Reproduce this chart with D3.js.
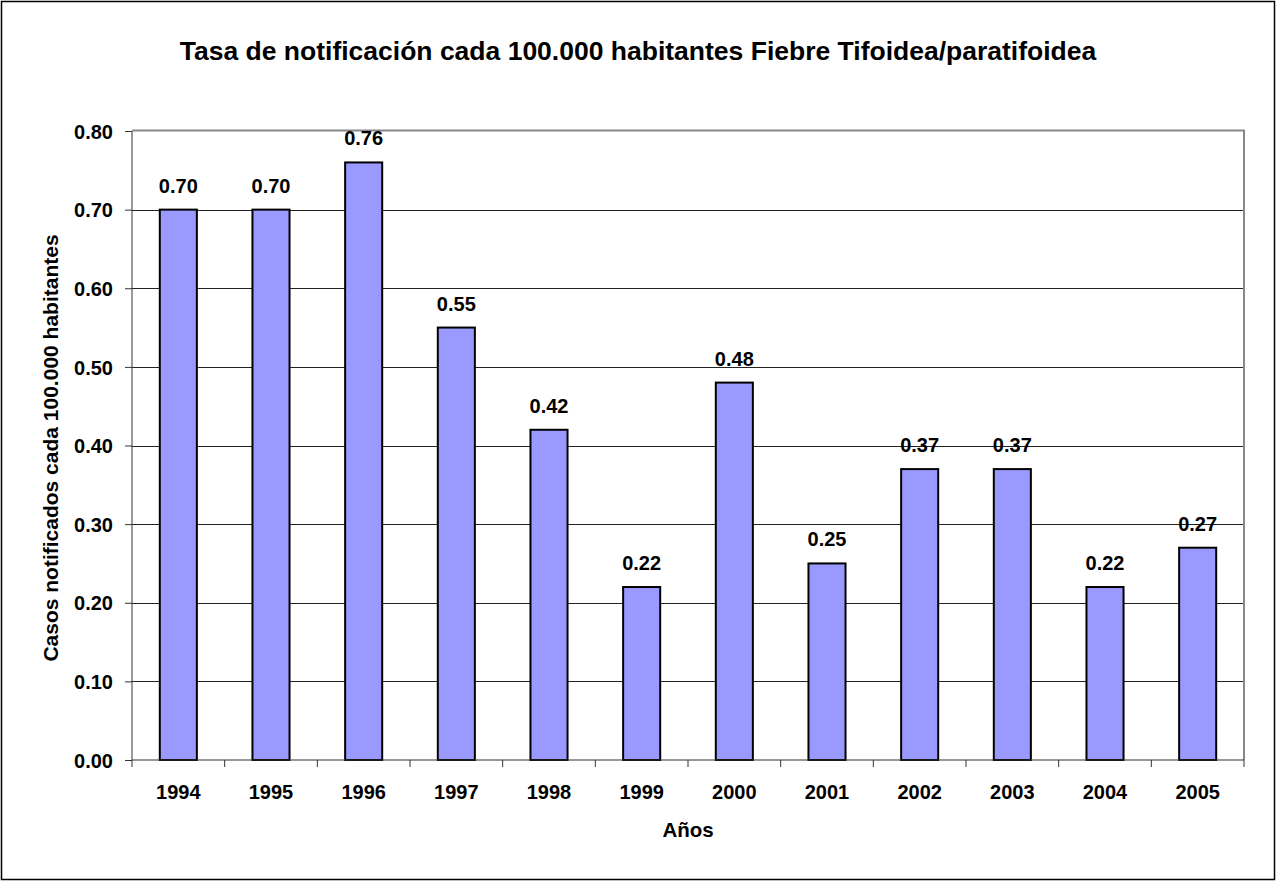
<!DOCTYPE html>
<html>
<head>
<meta charset="utf-8">
<script src="https://cdn.jsdelivr.net/npm/d3@7"></script>
<style>
  body { margin: 0; background: #fff; }
  text { font-family: "Liberation Sans", Arial, sans-serif; font-weight: bold; fill: #000; }
</style>
</head>
<body>
<script>
let width = 1276;
let height = 881;

let years = ['1994', '1995', '1996', '1997', '1998', '1999', '2000', '2001', '2002', '2003', '2004', '2005'];
let rates = [0.70, 0.70, 0.76, 0.55, 0.42, 0.22, 0.48, 0.25, 0.37, 0.37, 0.22, 0.27];
let yTicks = [0, 0.1, 0.2, 0.3, 0.4, 0.5, 0.6, 0.7, 0.8];

let margin = {left: 132, right: 32, top: 131, bottom: 121};

let svg = d3.select('body').append('svg').attr('width', width).attr('height', height);

// outer frame
svg.append('rect').attr('x', 1.5).attr('y', 1.5).attr('width', width - 3).attr('height', height - 3)
  .attr('fill', 'white').attr('stroke', '#000').attr('stroke-width', 1.5);

let x = d3.scaleBand().domain(years).range([margin.left, width - margin.right]);
let y = d3.scaleLinear().domain([0, 0.8]).range([height - margin.bottom, margin.top]);

// gridlines
svg.append('g').selectAll('line').data(yTicks.slice(1, -1)).enter().append('line')
  .attr('x1', margin.left).attr('x2', width - margin.right)
  .attr('y1', d => Math.round(y(d)) + 0.5).attr('y2', d => Math.round(y(d)) + 0.5)
  .attr('stroke', '#222').attr('stroke-width', 1);

// plot frame top + right (grey)
svg.append('path')
  .attr('d', 'M' + margin.left + ',' + (margin.top - 0.5) + 'H' + (width - margin.right) + 'V' + (height - margin.bottom))
  .attr('fill', 'none').attr('stroke', '#888').attr('stroke-width', 2);

// bars
let barW = x.bandwidth() * 0.4;
svg.append('g').selectAll('rect').data(rates).enter().append('rect')
  .attr('x', (d, i) => x(years[i]) + (x.bandwidth() - barW) / 2)
  .attr('y', d => y(d))
  .attr('width', barW)
  .attr('height', d => y(0) - y(d))
  .attr('fill', '#9999ff').attr('stroke', '#000').attr('stroke-width', 2);

// value labels
svg.append('g').selectAll('text').data(rates).enter().append('text')
  .attr('x', (d, i) => x(years[i]) + x.bandwidth() / 2)
  .attr('y', d => y(d) - 17)
  .attr('text-anchor', 'middle').attr('font-size', 20)
  .text(d => d.toFixed(2));

// y axis
let yAxis = svg.append('g').attr('transform', 'translate(' + margin.left + ',0)')
  .call(d3.axisLeft(y).tickValues(yTicks).tickFormat(d3.format('.2f')).tickSize(7).tickPadding(12));
yAxis.selectAll('text').attr('font-size', 20).attr('font-family', null).attr('dy', '0.36em');
yAxis.selectAll('line, path').attr('stroke', '#333');
yAxis.select('.domain').attr('d', 'M0,' + y(0) + 'V' + y(0.8));

// x axis
let xAxis = svg.append('g').attr('transform', 'translate(0,' + y(0) + ')')
  .call(d3.axisBottom(x).tickSize(0));
xAxis.selectAll('text').attr('font-size', 20).attr('font-family', null).attr('y', 39).attr('dy', 0);
xAxis.select('.domain').attr('stroke', '#333').attr('d', 'M' + margin.left + ',0H' + (width - margin.right));
xAxis.append('g').selectAll('line').data(years.concat(['end'])).enter().append('line')
  .attr('x1', (d, i) => margin.left + i * x.bandwidth()).attr('x2', (d, i) => margin.left + i * x.bandwidth())
  .attr('y1', 0).attr('y2', 7).attr('stroke', '#333');

// titles
svg.append('text').attr('x', 638).attr('y', 60).attr('text-anchor', 'middle').attr('font-size', 26.5)
  .text('Tasa de notificación cada 100.000 habitantes Fiebre Tifoidea/paratifoidea');

svg.append('text').attr('x', 688).attr('y', 837).attr('text-anchor', 'middle').attr('font-size', 20.5)
  .text('Años');

svg.append('text').attr('transform', 'translate(58,448) rotate(-90)').attr('text-anchor', 'middle')
  .attr('font-size', 21).text('Casos notificados cada 100.000 habitantes');
</script>
</body>
</html>
